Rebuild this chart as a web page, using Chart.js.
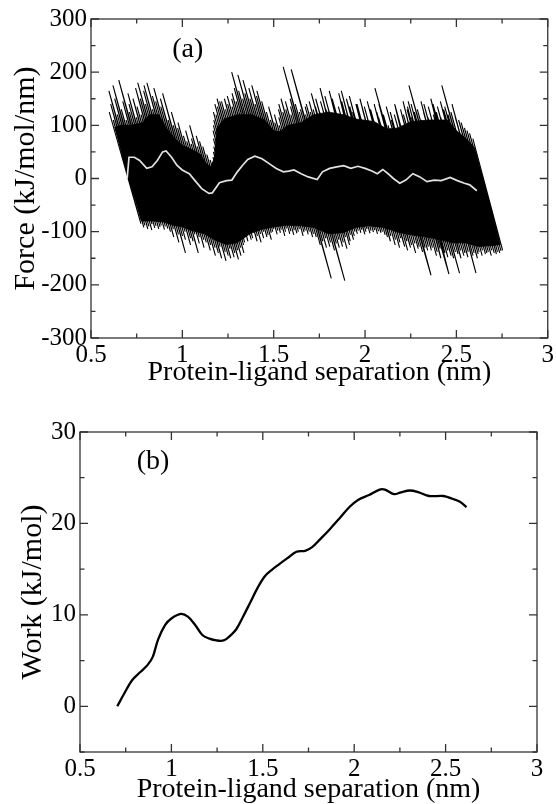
<!DOCTYPE html>
<html>
<head>
<meta charset="utf-8">
<script src="https://cdn.jsdelivr.net/npm/chart.js@4.4.1/dist/chart.umd.min.js"></script>
<style>
  html, body { margin: 0; padding: 0; background: #fff; }
  canvas { display: block; }
</style>
</head>
<body>
<canvas id="force" width="556" height="400"></canvas>
<canvas id="work" width="556" height="404"></canvas>
<script>
// ---- panel (a): pulling force ----
const xTicks = [0.5, 1, 1.5, 2, 2.5, 3];
const xTickLabels = ['0.5', '1', '1.5', '2', '2.5', '3'];
const xMinor = [0.75, 1.25, 1.75, 2.25, 2.75];

const forceTicks = [-300, -200, -100, 0, 100, 200, 300];
const forceTickLabels = ['-300', '-200', '-100', '0', '100', '200', '300'];
const forceMinor = [-250, -150, -50, 50, 150, 250];

// running average (light line)
const avgX = [0.698, 0.708, 0.737, 0.766, 0.805, 0.834, 0.863, 0.892, 0.911, 0.941, 0.970, 0.999, 1.038, 1.067, 1.106, 1.145, 1.164, 1.203, 1.242, 1.271, 1.300, 1.330, 1.358, 1.397, 1.436, 1.475, 1.514, 1.553, 1.582, 1.611, 1.650, 1.689, 1.738, 1.767, 1.806, 1.845, 1.883, 1.922, 1.961, 2.000, 2.038, 2.067, 2.097, 2.126, 2.155, 2.190, 2.223, 2.262, 2.300, 2.339, 2.378, 2.417, 2.466, 2.505, 2.544, 2.573, 2.612];
const avgY = [0, 40, 40, 34, 19, 22, 34, 50, 52, 40, 25, 16, 9, -3, -19, -28, -27, -8, -4, -3, 12, 25, 36, 42, 37, 28, 19, 12.5, 14, 16, 9, 3, -2, 12.5, 19, 22, 24, 19, 23, 19, 14, 9, 17, 9, 0, -9, -3, 9, 3, -6, -3, -4, 2, -4, -9, -12, -23];

// solid body of the raw force trace (outline)
const coreX = [0.63, 0.66, 0.72, 0.78, 0.82, 0.87, 0.91, 0.95, 1.00, 1.05, 1.10, 1.13, 1.155, 1.175, 1.19, 1.23, 1.30, 1.38, 1.45, 1.50, 1.53, 1.58, 1.65, 1.72, 1.80, 1.88, 1.95, 2.05, 2.12, 2.18, 2.25, 2.35, 2.45, 2.50, 2.55, 2.60,
  2.74, 2.70, 2.62, 2.55, 2.48, 2.40, 2.32, 2.25, 2.18, 2.10, 2.02, 1.95, 1.88, 1.80, 1.72, 1.65, 1.57, 1.50, 1.43, 1.37, 1.30, 1.24, 1.18, 1.12, 1.05, 1.00, 0.95, 0.90, 0.84, 0.775, 0.63];
const coreY = [96, 100, 100, 105, 120, 120, 96, 78, 62, 55, 45, 28, 22, 38, 95, 112, 120, 120, 110, 90, 88, 100, 105, 120, 125, 120, 112, 107, 93, 95, 107, 110, 110, 90, 76, 58,
  -124, -126, -128, -121, -121, -114, -109, -106, -101, -92, -89, -92, -102, -104, -92, -89, -88, -91, -96, -104, -121, -124, -116, -104, -98, -91, -88, -82, -80, -80, 96];

// raw trace: successive upper and lower swings (trace alternates top, bottom, top, ...)
const traceTopX = [0.600, 0.622, 0.608,
  0.598, 0.644, 0.630, 0.620, 0.666, 0.692, 0.674, 0.652, 0.710, 0.708, 0.702, 0.748, 0.730, 0.752, 0.774, 0.744,
  0.770, 0.756, 0.798, 0.788, 0.790, 0.836, 0.806, 0.836, 0.854, 0.844, 0.882, 0.880,
  0.922, 0.892, 0.950, 0.940, 0.974, 0.976,
  1.006, 1.024, 1.018, 1.048, 1.050, 1.040, 1.082, 1.076, 1.094, 1.112, 1.134, 1.152, 1.166,
  1.168, 1.170, 1.172, 1.170, 1.168, 1.170, 1.172, 1.170, 1.184, 1.178, 1.192, 1.190, 1.204,
  1.214, 1.236, 1.230, 1.248, 1.246, 1.272, 1.270, 1.272, 1.294, 1.284, 1.270, 1.308, 1.330, 1.304, 1.342, 1.332, 1.370, 1.364, 1.398, 1.380, 1.406, 1.408, 1.434,
  1.460, 1.482, 1.472, 1.506, 1.504, 1.530, 1.528, 1.526,
  1.528, 1.550, 1.540, 1.566, 1.564, 1.594, 1.592, 1.590, 1.552, 1.618, 1.640,
  1.646, 1.596, 1.674, 1.672, 1.678, 1.700, 1.694, 1.716,
  1.706, 1.728, 1.730, 1.752, 1.754, 1.756, 1.786, 1.780, 1.798, 1.804, 1.822, 1.820, 1.838, 1.856, 1.854, 1.872, 1.870, 1.900, 1.898, 1.916, 1.914, 1.932, 1.950,
  1.956, 1.974, 1.972, 1.990, 1.996, 2.014, 2.012, 2.030, 2.036, 2.050, 2.064,
  2.074, 2.076, 2.054, 2.100, 2.126, 2.116, 2.138, 2.144, 2.162, 2.160, 2.166, 2.196, 2.194, 2.208, 2.210, 2.232,
  2.230, 2.236, 2.254, 2.252, 2.270, 2.240, 2.286, 2.308, 2.306, 2.320, 2.322, 2.344, 2.346, 2.360, 2.374, 2.372, 2.390, 2.396, 2.414, 2.412, 2.430, 2.436, 2.454, 2.420, 2.470, 2.476, 2.494, 2.512,
  2.526, 2.544, 2.558, 2.572, 2.590];
const traceTopY = [125, 110, 140,
  165, 120, 150, 175, 130, 110, 145, 185, 125, 140, 160, 115, 150, 135, 120, 170,
  150, 180, 140, 165, 175, 130, 180, 155, 145, 170, 135, 150,
  110, 160, 100, 125, 95, 105,
  80, 70, 90, 65, 75, 100, 60, 80, 70, 60, 45, 35, 30,
  40, 50, 60, 75, 90, 100, 110, 125, 120, 140, 135, 150, 145,
  145, 130, 150, 140, 155, 135, 150, 160, 145, 170, 200, 165, 150, 195, 160, 185, 150, 170, 140, 175, 155, 165, 145,
  125, 110, 135, 105, 120, 100, 115, 130,
  140, 125, 150, 130, 145, 120, 135, 150, 210, 140, 125,
  130, 205, 120, 135, 140, 125, 145, 130,
  160, 135, 150, 125, 170, 145, 130, 155, 120, 165, 140, 150, 125, 160, 135, 145, 165, 120, 150, 135, 155, 125, 140,
  140, 115, 150, 125, 135, 110, 145, 130, 120, 140, 125,
  115, 140, 170, 120, 100, 135, 125, 110, 140, 120, 135, 100, 130, 145, 120, 135,
  130, 145, 115, 140, 125, 175, 130, 110, 145, 125, 140, 115, 135, 150, 120, 140, 125, 135, 115, 145, 130, 135, 120, 175, 125, 140, 115, 110,
  105, 95, 90, 85, 75];
const traceBotX = [0.773, 0.789, 0.795, 0.811, 0.817, 0.833, 0.834, 0.849, 0.856, 0.871, 0.878, 0.885, 0.902, 0.907, 0.920,
  0.935, 0.953, 0.951, 0.981, 0.979, 1.017, 1.001, 1.017, 1.015, 1.045, 1.045, 1.059, 1.087, 1.069, 1.093, 1.093, 1.119, 1.117,
  1.131, 1.153, 1.155, 1.181, 1.179, 1.197, 1.215, 1.207, 1.239, 1.235, 1.251, 1.265, 1.261, 1.283, 1.287, 1.307, 1.303, 1.321, 1.319, 1.337, 1.335,
  1.341, 1.343, 1.359, 1.359, 1.377, 1.385, 1.385, 1.409, 1.411, 1.431, 1.428, 1.445, 1.445, 1.463, 1.470, 1.487, 1.487,
  1.495, 1.501, 1.519, 1.523, 1.537, 1.542, 1.561, 1.565, 1.570, 1.588, 1.594, 1.610, 1.613, 1.627, 1.635, 1.641, 1.661, 1.666, 1.673, 1.689, 1.695, 1.713, 1.718,
  1.733, 1.755, 1.815, 1.769, 1.789, 1.785, 1.807, 1.811, 1.833, 1.889, 1.843, 1.859, 1.857, 1.877, 1.881, 1.901, 1.893, 1.915, 1.919, 1.920, 1.937, 1.941,
  1.945, 1.958, 1.963, 1.977, 1.982, 1.999, 2.005, 2.011, 2.027, 2.033, 2.046, 2.053, 2.068, 2.074, 2.087, 2.095, 2.110,
  2.123, 2.139, 2.141, 2.165, 2.167, 2.189, 2.191, 2.195, 2.217, 2.233, 2.229, 2.249, 2.255, 2.277, 2.273, 2.291, 2.297, 2.315, 2.361, 2.329, 2.343, 2.347,
  2.363, 2.369, 2.391, 2.395, 2.415, 2.411, 2.459, 2.437, 2.453, 2.453, 2.471, 2.485, 2.517, 2.495, 2.509, 2.525, 2.523, 2.541, 2.547, 2.563, 2.565, 2.607, 2.591, 2.597, 2.615, 2.619,
  2.625, 2.641, 2.643, 2.659, 2.667, 2.675, 2.691, 2.693, 2.707, 2.719, 2.725, 2.737, 2.744, 2.753];
const traceBotY = [-85, -92, -88, -95, -90, -97, -86, -93, -89, -95, -91, -88, -96, -90, -94,
  -100, -110, -95, -120, -105, -140, -108, -115, -100, -125, -112, -118, -140, -105, -122, -110, -130, -115,
  -120, -135, -125, -145, -130, -140, -150, -128, -155, -138, -145, -150, -132, -148, -140, -152, -135, -145, -130, -140, -125,
  -120, -110, -118, -105, -115, -112, -100, -118, -108, -120, -104, -112, -100, -110, -106, -115, -102,
  -100, -95, -105, -98, -102, -96, -108, -100, -94, -104, -99, -106, -97, -103, -100, -95, -108, -101, -98, -105, -100, -110, -104,
  -110, -125, -188, -118, -130, -112, -128, -120, -135, -192, -122, -130, -115, -128, -120, -132, -110, -125, -118, -106, -115, -108,
  -100, -104, -98, -102, -96, -105, -100, -95, -103, -98, -101, -97, -104, -99, -102, -100, -106,
  -110, -118, -108, -125, -115, -130, -120, -112, -128, -135, -118, -130, -125, -140, -122, -132, -128, -138, -182, -130, -135, -128,
  -135, -130, -145, -138, -150, -132, -180, -140, -148, -135, -145, -150, -178, -138, -142, -150, -135, -145, -140, -148, -138, -178, -145, -140, -150, -142,
  -138, -145, -135, -142, -140, -138, -145, -135, -140, -142, -138, -140, -136, -135];

// ---- panel (b): work ----
const workTicks = [0, 10, 20, 30];
const workTickLabels = ['0', '10', '20', '30'];
const workMinor = [-5, 5, 15, 25];
const workX = [0.704, 0.742, 0.785, 0.83, 0.869, 0.898, 0.927, 0.966, 1.0, 1.052, 1.09, 1.13, 1.169, 1.208, 1.247, 1.286, 1.315, 1.354, 1.392, 1.43, 1.47, 1.51, 1.548, 1.587, 1.635, 1.684, 1.732, 1.77, 1.81, 1.868, 1.926, 1.974, 2.023, 2.081, 2.139, 2.168, 2.217, 2.256, 2.304, 2.353, 2.41, 2.488, 2.537, 2.576, 2.615];
const workY = [0, 1.4, 2.85, 3.75, 4.5, 5.4, 7.3, 8.9, 9.6, 10.1, 9.8, 8.9, 7.8, 7.4, 7.2, 7.2, 7.6, 8.4, 9.8, 11.3, 12.9, 14.2, 14.9, 15.5, 16.2, 16.9, 17.0, 17.4, 18.2, 19.4, 20.7, 21.8, 22.6, 23.1, 23.7, 23.7, 23.2, 23.4, 23.6, 23.4, 23.0, 23.0, 22.7, 22.4, 21.8];

const serif = "'Liberation Serif', 'Times New Roman', serif";
const pts = (xs, ys) => xs.map((x, i) => ({ x, y: ys[i] }));

const trace = [];
traceTopX.forEach((x, i) => {
  trace.push({ x, y: traceTopY[i] });
  if (i < traceBotX.length) trace.push({ x: traceBotX[i], y: traceBotY[i] });
});

// box frame with inward ticks on all four sides, plus the panel letter
const framePlugin = {
  id: 'frame',
  afterDraw(chart, args, opts) {
    const { ctx, chartArea: a, scales: { x, y } } = chart;
    ctx.save();
    ctx.strokeStyle = '#333';
    ctx.lineWidth = 1.3;
    ctx.strokeRect(a.left, a.top, a.right - a.left, a.bottom - a.top);
    ctx.beginPath();
    const vTicks = (vals, len) => vals.forEach(v => {
      const px = x.getPixelForValue(v);
      ctx.moveTo(px, a.bottom); ctx.lineTo(px, a.bottom - len);
      ctx.moveTo(px, a.top); ctx.lineTo(px, a.top + len);
    });
    const hTicks = (vals, len) => vals.forEach(v => {
      const py = y.getPixelForValue(v);
      ctx.moveTo(a.left, py); ctx.lineTo(a.left + len, py);
      ctx.moveTo(a.right, py); ctx.lineTo(a.right - len, py);
    });
    vTicks(opts.xMajor, 8); vTicks(opts.xMinor, 4.5);
    hTicks(opts.yMajor, 8); hTicks(opts.yMinor, 4.5);
    ctx.stroke();
    ctx.fillStyle = '#000';
    ctx.font = `28px ${serif}`;
    ctx.textAlign = 'center';
    ctx.textBaseline = 'middle';
    ctx.fillText(opts.label, x.getPixelForValue(opts.at[0]), y.getPixelForValue(opts.at[1]));
    ctx.restore();
  }
};

function xScale(height) {
  return {
    type: 'linear', min: 0.5, max: 3,
    afterBuildTicks: s => { s.ticks = xTicks.map(v => ({ value: v })); },
    afterFit: s => { s.height = height; },
    ticks: { font: { family: serif, size: 25 }, color: '#000', padding: 2, maxRotation: 0, autoSkip: false,
      callback: (v, i) => xTickLabels[i] },
    grid: { display: false, drawTicks: false },
    border: { display: false },
    title: { display: true, text: 'Protein-ligand separation (nm)', color: '#000',
      font: { family: serif, size: 28, lineHeight: 1 }, padding: { top: 0, bottom: height > 55 ? 13 : 0 } }
  };
}

function yScale(width, min, max, ticks, labels, title, titlePad) {
  return {
    type: 'linear', min, max,
    afterBuildTicks: s => { s.ticks = ticks.map(v => ({ value: v })); },
    afterFit: s => { s.width = width; },
    ticks: { font: { family: serif, size: 25 }, color: '#000', padding: 4, autoSkip: false,
      callback: (v, i) => labels[i] },
    grid: { display: false, drawTicks: false },
    border: { display: false },
    title: { display: true, text: title, color: '#000',
      font: { family: serif, size: 30, lineHeight: 1 }, padding: { top: titlePad, bottom: 0 } }
  };
}

new Chart(document.getElementById('force'), {
  type: 'line',
  data: {
    datasets: [
      { data: pts(avgX, avgY), borderColor: '#e2e2e2', borderWidth: 1.7, pointRadius: 0, order: 0 },
      { data: trace, borderColor: '#000', borderWidth: 1.1, pointRadius: 0, order: 1 },
      { data: pts(coreX, coreY), borderColor: '#000', borderWidth: 0.8, backgroundColor: '#000',
        fill: 'shape', pointRadius: 0, order: 2 }
    ]
  },
  options: {
    responsive: false,
    animation: false,
    devicePixelRatio: 1,
    layout: { padding: { left: 0, right: 8, top: 18, bottom: 0 } },
    plugins: {
      legend: { display: false },
      tooltip: { enabled: false },
      frame: { xMajor: xTicks, xMinor, yMajor: forceTicks, yMinor: forceMinor, label: '(a)', at: [1.03, 242] }
    },
    scales: {
      x: xScale(62),
      y: yScale(91, -300, 300, forceTicks, forceTickLabels, 'Force (kJ/mol/nm)', 11)
    }
  },
  plugins: [framePlugin]
});

new Chart(document.getElementById('work'), {
  type: 'line',
  data: {
    datasets: [
      { data: pts(workX, workY), borderColor: '#000', borderWidth: 2.3, pointRadius: 0, tension: 0.35 }
    ]
  },
  options: {
    responsive: false,
    animation: false,
    devicePixelRatio: 1,
    layout: { padding: { left: 0, right: 19, top: 32, bottom: 0 } },
    plugins: {
      legend: { display: false },
      tooltip: { enabled: false },
      frame: { xMajor: xTicks, xMinor, yMajor: workTicks, yMinor: workMinor, label: '(b)', at: [0.9, 26.8] }
    },
    scales: {
      x: xScale(52),
      y: yScale(80, -5, 30, workTicks, workTickLabels, 'Work (kJ/mol)', 18)
    }
  },
  plugins: [framePlugin]
});
</script>
</body>
</html>
